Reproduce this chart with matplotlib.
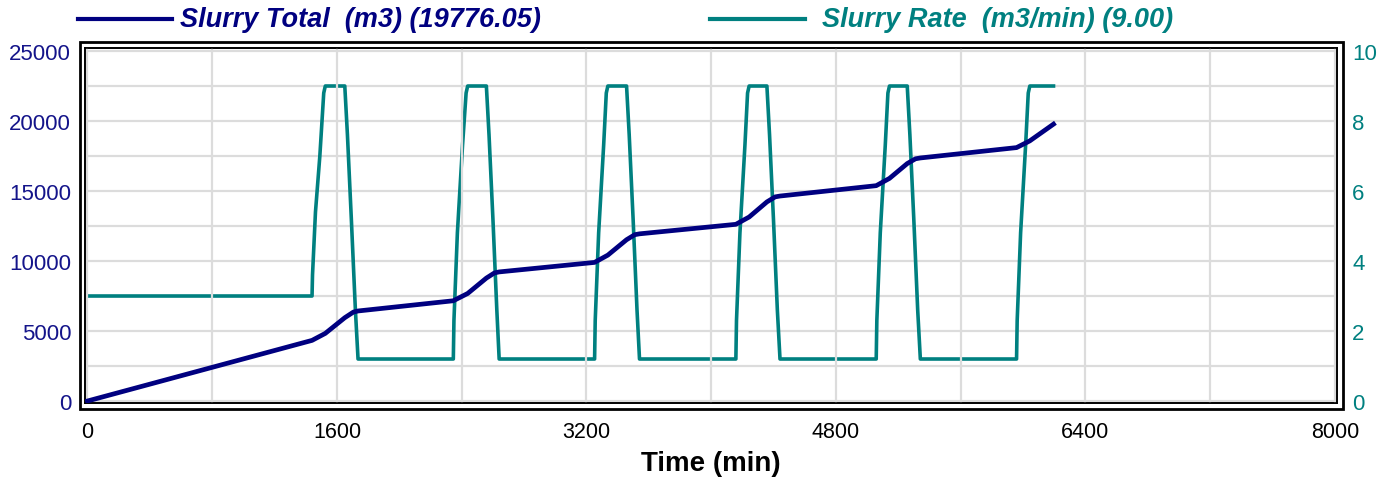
import matplotlib.pyplot as plt
from matplotlib.lines import Line2D
from matplotlib.patches import Rectangle

plt.rcParams['font.family'] = ['Liberation Sans', 'DejaVu Sans']

# -------------------------------
# Data
# -------------------------------

rate_time = [0, 1440, 1443, 1462, 1490, 1515, 1525, 1650, 1667, 1692, 1718, 1735,
             2346, 2350, 2372, 2405, 2428, 2438, 2558, 2575, 2600, 2625, 2640,
             3252, 3256, 3278, 3310, 3327, 3337, 3457, 3474, 3499, 3524, 3540,
             4158, 4162, 4184, 4216, 4233, 4243, 4357, 4374, 4399, 4424, 4441,
             5058, 5062, 5084, 5116, 5133, 5143, 5257, 5274, 5299, 5324, 5341,
             5958, 5962, 5984, 6016, 6033, 6043, 6195]
rate_vals = [3, 3, 3.6, 5.4, 7.0, 8.8, 9, 9, 7.6, 5.2, 2.6, 1.2,
             1.2, 2.3, 4.8, 7.3, 8.8, 9, 9, 7.6, 5.2, 2.6, 1.2,
             1.2, 2.3, 4.8, 7.3, 8.8, 9, 9, 7.6, 5.2, 2.6, 1.2,
             1.2, 2.3, 4.8, 7.3, 8.8, 9, 9, 7.6, 5.2, 2.6, 1.2,
             1.2, 2.3, 4.8, 7.3, 8.8, 9, 9, 7.6, 5.2, 2.6, 1.2,
             1.2, 2.3, 4.8, 7.3, 8.8, 9, 9]

total_time = [0, 1440, 1525, 1650, 1705, 1735, 2346, 2438, 2558, 2610, 2640,
              3252, 3337, 3457, 3510, 3540, 4158, 4243, 4357, 4410, 4441,
              5058, 5143, 5257, 5310, 5341, 5958, 6043, 6195]
total_vals = [0, 4330, 4830, 5950, 6350, 6430, 7160, 7680, 8780, 9150, 9220,
              9900, 10420, 11520, 11880, 11940, 12620, 13140, 14220, 14580, 14640,
              15380, 15900, 16960, 17300, 17360, 18100, 18580, 19776]

x_ticks = [0, 1600, 3200, 4800, 6400, 8000]
total_ticks = [0, 5000, 10000, 15000, 20000, 25000]
rate_ticks = [0, 2, 4, 6, 8, 10]

navy = '#000080'
teal = '#008080'
grid_col = '#dcdcdc'

W, H = 1379, 485
fig = plt.figure(figsize=(W / 100, H / 100), dpi=100)

# inner frame in pixels: left 85, right 1337, top 49, bottom 404
ax = fig.add_axes([85 / W, (H - 404) / H, (1337 - 85) / W, (404 - 49) / H])
ax2 = ax.twinx()

ax.set_xlim(-16, 8013)
ax.set_ylim(-143, 25214)
ax2.set_ylim(-0.057, 10.086)

# grid
for xv in range(0, 8001, 800):
    ax.axvline(xv, color=grid_col, lw=1.6, zorder=0)
for rv in range(0, 11):
    ax2.axhline(rv, color=grid_col, lw=1.6, zorder=0)

ax2.plot(rate_time, rate_vals, color=teal, lw=2.6, zorder=3)
ax.plot(total_time, total_vals, color=navy, lw=3.4, zorder=4)
ax.set_zorder(ax2.get_zorder() + 1)
ax.patch.set_visible(False)

ax.set_xticks(x_ticks)
ax.set_xticklabels([str(v) for v in x_ticks], fontsize=15.5, color='black')
ax.set_yticks(total_ticks)
ax.set_yticklabels([str(v) for v in total_ticks], fontsize=16, color='#14148a')
ax2.set_yticks(rate_ticks)
ax2.set_yticklabels([str(v) for v in rate_ticks], fontsize=16, color=teal)

ax.tick_params(axis='x', length=0, pad=13)
ax.tick_params(axis='y', length=0, pad=10)
ax2.tick_params(axis='y', length=0, pad=11)

for a in (ax, ax2):
    for s in a.spines.values():
        s.set_color('black')
        s.set_linewidth(1.2)

ax.set_xlabel('Time (min)', fontsize=20, fontweight='bold', labelpad=6)

# outer frame
fig.patches.append(Rectangle((80 / W, (H - 410) / H), (1343 - 80) / W, (410 - 43) / H,
                             transform=fig.transFigure, fill=False,
                             edgecolor='black', linewidth=2.0))

# legend across the top
ly = (H - 20) / H
fig.add_artist(Line2D([78 / W, 172 / W], [ly, ly], color=navy, lw=3.0))
fig.text(180 / W, ly, 'Slurry Total  (m3) (19776.05)', color=navy,
         fontsize=19.5, fontweight='bold', fontstyle='italic', va='center')
fig.add_artist(Line2D([710 / W, 805 / W], [ly, ly], color=teal, lw=3.0))
fig.text(822 / W, ly, 'Slurry Rate  (m3/min) (9.00)', color=teal,
         fontsize=19.5, fontweight='bold', fontstyle='italic', va='center')

fig.savefig('out.png', dpi=100)
